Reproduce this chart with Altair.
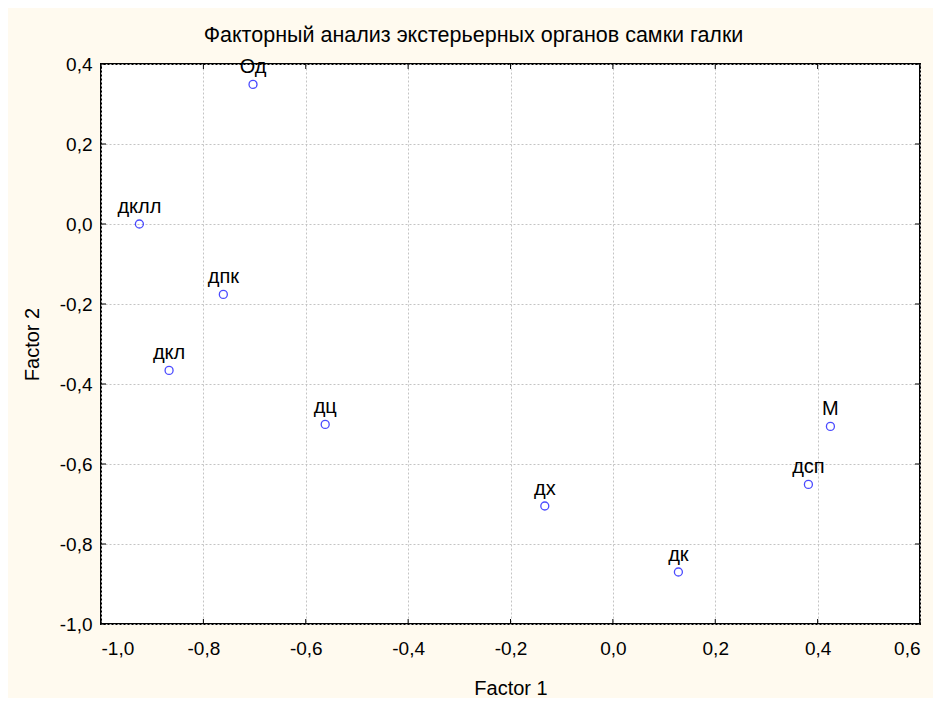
import altair as alt
import pandas as pd

labels = ["Од", "дклл", "дпк", "дкл", "дц", "дх", "дк", "дсп", "М"]
factor1 = [-0.703, -0.925, -0.761, -0.867, -0.562, -0.133, 0.128, 0.382, 0.425]
factor2 = [0.349, 0.0, -0.176, -0.366, -0.501, -0.705, -0.870, -0.651, -0.506]

x_ticks = [-1.0, -0.8, -0.6, -0.4, -0.2, 0.0, 0.2, 0.4, 0.6]
y_ticks = [-1.0, -0.8, -0.6, -0.4, -0.2, 0.0, 0.2, 0.4]

W, H = 819, 560

df = pd.DataFrame({"label": labels, "f1": factor1, "f2": factor2})
dfx = pd.DataFrame({"v": x_ticks})
dfy = pd.DataFrame({"v": y_ticks})

lab_expr = "(datum.value < 0 ? '-' : '') + replace(format(abs(datum.value), '.1f'), '.', ',')"

xscale = alt.Scale(domain=[-1.0, 0.6], nice=False, zero=False)
yscale = alt.Scale(domain=[-1.0, 0.4], nice=False, zero=False)

xaxis = alt.Axis(values=x_ticks, labelExpr=lab_expr, grid=True, ticks=False, domain=False,
                 gridColor="#c4c4c4", gridDash=[2, 2], gridWidth=1,
                 labelFont="Arial", labelFontSize=19, labelColor="black", labelPadding=15,
                 title="Factor 1", titleFont="Arial", titleFontSize=20, titleFontWeight="normal",
                 titleColor="black", titleY=64, titleBaseline="middle")
yaxis = alt.Axis(values=y_ticks, labelExpr=lab_expr, grid=True, ticks=False, domain=False,
                 gridColor="#c4c4c4", gridDash=[2, 2], gridWidth=1,
                 labelFont="Arial", labelFontSize=19, labelColor="black", labelPadding=9,
                 title="Factor 2", titleFont="Arial", titleFontSize=20, titleFontWeight="normal",
                 titleColor="black", titleX=-69, titleY=H / 2, titleBaseline="middle",
                 titleAngle=270, titleAlign="center")

base = alt.Chart(df)

points = base.mark_point(shape="circle", filled=False, color="#0000FF", size=64,
                         strokeWidth=1.3, clip=False).encode(
    x=alt.X("f1:Q", scale=xscale, axis=xaxis),
    y=alt.Y("f2:Q", scale=yscale, axis=yaxis),
)

texts = base.mark_text(font="Arial", fontSize=20, color="black", baseline="alphabetic",
                       align="center", dy=-11).encode(
    x=alt.X("f1:Q", scale=xscale),
    y=alt.Y("f2:Q", scale=yscale),
    text="label:N",
)

tb = alt.Chart(dfx).mark_rule(color="black", strokeWidth=1).encode(
    x=alt.X("v:Q", scale=xscale), y=alt.value(H), y2=alt.value(H - 5))
tt = alt.Chart(dfx).mark_rule(color="black", strokeWidth=1).encode(
    x=alt.X("v:Q", scale=xscale), y=alt.value(0), y2=alt.value(5))
tl = alt.Chart(dfy).mark_rule(color="black", strokeWidth=1).encode(
    y=alt.Y("v:Q", scale=yscale), x=alt.value(0), x2=alt.value(5))
tr = alt.Chart(dfy).mark_rule(color="black", strokeWidth=1).encode(
    y=alt.Y("v:Q", scale=yscale), x=alt.value(W), x2=alt.value(W - 5))

chart = alt.layer(points, tb, tt, tl, tr, texts).properties(
    width=W, height=H,
    title=alt.TitleParams("Факторный анализ экстерьерных органов самки галки",
                          font="Arial", fontSize=21.5, fontWeight="normal", color="black",
                          anchor="middle", offset=9, dx=-37),
    autosize=alt.AutoSizeParams(type="none"),
    padding={"left": 93, "top": 56, "right": 13, "bottom": 74},
    background="#FFFAEF",
).configure_view(stroke="black", strokeWidth=2, fill="white")

chart.save("out.html", embed_options={"renderer": "svg", "actions": False})
